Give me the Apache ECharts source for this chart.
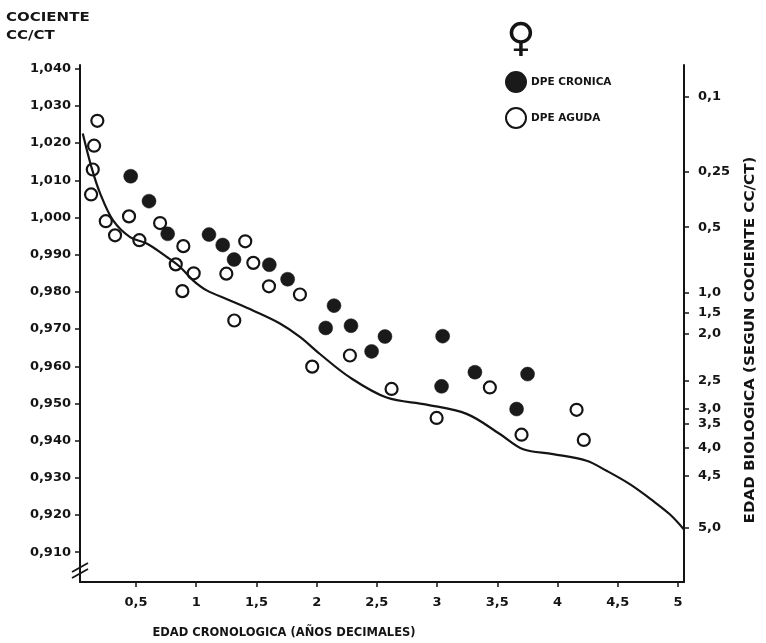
<!DOCTYPE html>
<html><head><meta charset="utf-8">
<script src="https://cdn.jsdelivr.net/npm/echarts@6/dist/echarts.min.js"></script>
<style>html,body{margin:0;padding:0;background:#fff}#c{width:766px;height:643px}</style>
</head><body><div id="c"></div>
<script>
// Tick values / labels
const xTickValues = [0.5, 1, 1.5, 2, 2.5, 3, 3.5, 4, 4.5, 5];
const xTickLabels = ['0,5', '1', '1,5', '2', '2,5', '3', '3,5', '4', '4,5', '5'];
const yTickValues = [0.91, 0.92, 0.93, 0.94, 0.95, 0.96, 0.97, 0.98, 0.99, 1.00, 1.01, 1.02, 1.03, 1.04];
const yTickLabels = ['0,910', '0,920', '0,930', '0,940', '0,950', '0,960', '0,970', '0,980', '0,990', '1,000', '1,010', '1,020', '1,030', '1,040'];
// Right axis: biological age positioned at the corresponding cociente value
const bioTickValues = [1.0324, 1.0122, 0.9974, 0.9798, 0.9745, 0.9688, 0.9561, 0.9486, 0.9446, 0.9381, 0.9306, 0.9165];
const bioTickLabels = ['0,1', '0,25', '0,5', '1,0', '1,5', '2,0', '2,5', '3,0', '3,5', '4,0', '4,5', '5,0'];

// DPE CRONICA (filled)
const cronicaX = [0.456, 0.608, 0.763, 1.106, 1.220, 1.314, 1.607, 1.759, 2.144, 2.075, 2.285, 2.567, 2.456, 3.046, 3.037, 3.314, 3.751, 3.660];
const cronicaY = [1.0111, 1.0044, 0.9956, 0.9954, 0.9926, 0.9887, 0.9873, 0.9834, 0.9763, 0.9703, 0.9709, 0.9680, 0.9640, 0.9681, 0.9546, 0.9584, 0.9579, 0.9485];

// DPE AGUDA (open)
const agudaX = [0.179, 0.152, 0.141, 0.127, 0.249, 0.326, 0.442, 0.528, 0.700, 0.893, 0.830, 0.979, 0.885, 1.407, 1.250, 1.474, 1.604, 1.861, 1.316, 2.276, 1.963, 2.622, 3.438, 2.996, 3.701, 4.158, 4.218];
const agudaY = [1.0260, 1.0193, 1.0129, 1.0062, 0.9990, 0.9952, 1.0003, 0.9939, 0.9985, 0.9923, 0.9874, 0.9850, 0.9802, 0.9936, 0.9849, 0.9878, 0.9815, 0.9793, 0.9723, 0.9629, 0.9599, 0.9539, 0.9543, 0.9461, 0.9416, 0.9483, 0.9402];

// Reference curve
const curveX = [0.058, 0.133, 0.202, 0.310, 0.451, 0.589, 0.755, 0.866, 0.973, 1.087, 1.280, 1.471, 1.695, 1.861, 2.027, 2.276, 2.581, 2.913, 3.245, 3.521, 3.715, 3.963, 4.241, 4.407, 4.600, 4.793, 4.932, 5.048];
const curveY = [1.0226, 1.0132, 1.0065, 0.9992, 0.9947, 0.9930, 0.9894, 0.9867, 0.9831, 0.9804, 0.9777, 0.9750, 0.9715, 0.9679, 0.9633, 0.9570, 0.9516, 0.9497, 0.9472, 0.9418, 0.9377, 0.9364, 0.9346, 0.9319, 0.9283, 0.9238, 0.9202, 0.9162];

const zip = (a, b) => a.map((v, i) => [v, b[i]]);
const lookup = (vals, labs) => v => {
  for (let i = 0; i < vals.length; i++) if (Math.abs(vals[i] - v) < 1e-6) return labs[i];
  return '';
};

const FONT = 'DejaVu Sans';
const INK = '#141414';
const axisLineStyle = { color: INK, width: 2 };

const chart = echarts.init(document.getElementById('c'), null, { renderer: 'canvas' });
chart.setOption({
  backgroundColor: '#fff',
  animation: false,
  grid: { left: 80, right: 82, top: 65, bottom: 61, containLabel: false },
  xAxis: {
    type: 'value', min: 0.035, max: 5.05,
    axisLine: { show: true, lineStyle: axisLineStyle },
    axisTick: { show: true, customValues: xTickValues, length: 5, lineStyle: { color: INK, width: 1.5 } },
    axisLabel: { customValues: xTickValues, formatter: lookup(xTickValues, xTickLabels), margin: 14,
      fontFamily: FONT, fontWeight: 'bold', fontSize: 13, color: INK },
    splitLine: { show: false }
  },
  yAxis: [{
    type: 'value', min: 0.902, max: 1.041, position: 'left',
    axisLine: { show: true, lineStyle: axisLineStyle },
    axisTick: { show: true, customValues: yTickValues, length: 5, lineStyle: { color: INK, width: 1.5 } },
    axisLabel: { customValues: yTickValues, formatter: lookup(yTickValues, yTickLabels), margin: 9,
      fontFamily: FONT, fontWeight: 'bold', fontSize: 13, color: INK },
    splitLine: { show: false }
  }, {
    type: 'value', min: 0.902, max: 1.041, position: 'right',
    axisLine: { show: true, lineStyle: axisLineStyle },
    axisTick: { show: true, customValues: bioTickValues, length: 5, lineStyle: { color: INK, width: 1.5 } },
    axisLabel: { customValues: bioTickValues, formatter: lookup(bioTickValues, bioTickLabels), margin: 14,
      fontFamily: FONT, fontWeight: 'bold', fontSize: 13, color: INK },
    splitLine: { show: false }
  }],
  legend: {
    orient: 'vertical', left: 500, top: 66, itemWidth: 20, itemHeight: 20, itemGap: 14,
    textStyle: { fontFamily: FONT, fontWeight: 'bold', fontSize: 10.5, color: INK },
    data: [{ name: 'DPE CRONICA', icon: 'circle' }, { name: 'DPE AGUDA', icon: 'circle' }]
  },
  series: [
    { name: 'curva', type: 'line', data: zip(curveX, curveY), showSymbol: false, smooth: 0.35,
      lineStyle: { color: INK, width: 2.2 }, silent: true, z: 1 },
    { name: 'DPE CRONICA', type: 'scatter', data: zip(cronicaX, cronicaY), symbol: 'circle', symbolSize: 14,
      itemStyle: { color: '#1a1a1a', borderColor: '#1a1a1a', borderWidth: 0.5, opacity: 1 }, z: 3 },
    { name: 'DPE AGUDA', type: 'scatter', data: zip(agudaX, agudaY), symbol: 'circle', symbolSize: 12,
      itemStyle: { color: 'rgba(255,255,255,0)', borderColor: INK, borderWidth: 2.2, opacity: 1 }, z: 3 }
  ],
  graphic: [
    { type: 'text', left: 6, top: 12, scaleX: 1.25,
      style: { text: 'COCIENTE', font: 'bold 12px "DejaVu Sans"', fill: INK } },
    { type: 'text', left: 6, top: 30, scaleX: 1.25,
      style: { text: 'CC/CT', font: 'bold 12px "DejaVu Sans"', fill: INK } },
    { type: 'text', x: 521, y: 41, style: { text: '♀', font: 'bold 40px "DejaVu Sans"', fill: INK, align: 'center', verticalAlign: 'middle' } },
    { type: 'text', x: 284, y: 633, style: { text: 'EDAD CRONOLOGICA (AÑOS DECIMALES)', font: 'bold 11.5px "DejaVu Sans"', fill: INK, align: 'center', verticalAlign: 'middle' } },
    { type: 'text', x: 750, y: 340, rotation: Math.PI / 2, scaleX: 1.08,
      style: { text: 'EDAD BIOLOGICA (SEGUN COCIENTE CC/CT)', font: 'bold 14px "DejaVu Sans"', fill: INK, align: 'center', verticalAlign: 'middle' } },
    { type: 'line', shape: { x1: 72, y1: 572, x2: 88, y2: 563 }, style: { stroke: INK, lineWidth: 1.8 } },
    { type: 'line', shape: { x1: 72, y1: 578, x2: 88, y2: 569 }, style: { stroke: INK, lineWidth: 1.8 } }
  ]
});
</script>
</body></html>
